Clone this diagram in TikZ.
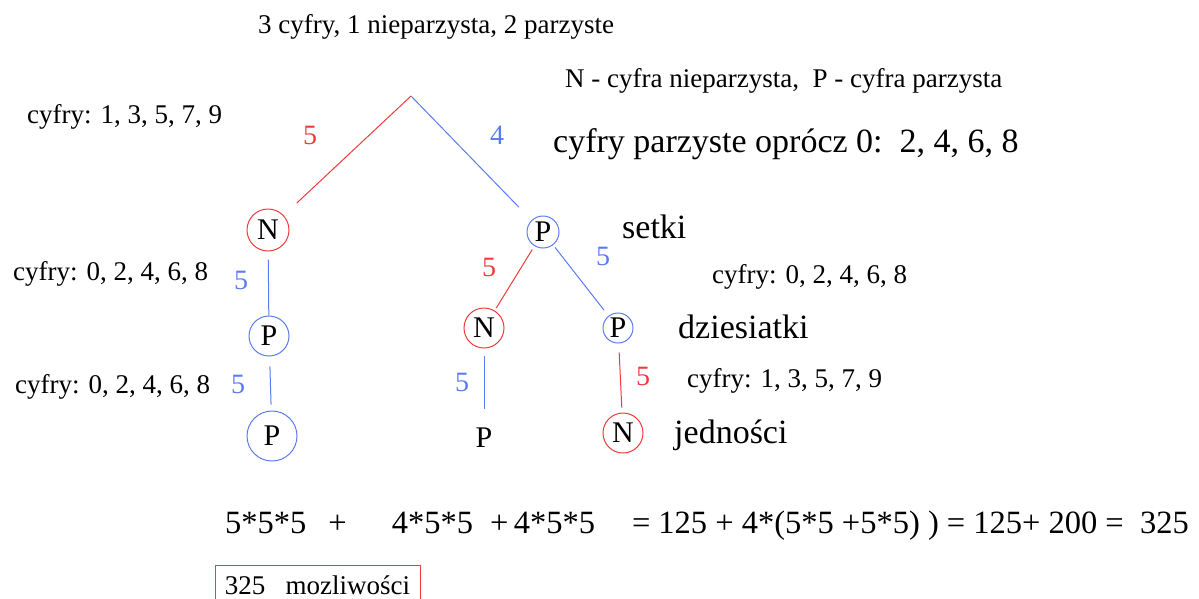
\documentclass[tikz,border=0pt]{standalone}
\usepackage{fontspec}
\setmainfont{Liberation Serif}
\definecolor{drzewoCzerw}{HTML}{F03A3A}
\definecolor{drzewoNieb}{HTML}{5B7BF0}

\begin{document}
\begin{tikzpicture}[x=1pt,y=-1pt,
  opis/.style={font=\fontsize{27}{30}\selectfont,anchor=base west,inner sep=0pt},
  opisduzy/.style={font=\fontsize{34}{38}\selectfont,anchor=base west,inner sep=0pt},
  cyfraN/.style={circle,draw=drzewoCzerw,line width=1pt,inner sep=0pt,
    font=\fontsize{30}{32}\selectfont},
  cyfraP/.style={circle,draw=drzewoNieb,line width=1pt,inner sep=0pt,
    font=\fontsize{30}{32}\selectfont},
  liczba/.style={font=\fontsize{28}{30}\selectfont,inner sep=0pt},
  galazN/.style={drzewoCzerw,line width=1pt},
  galazP/.style={drzewoNieb,line width=1pt}]
  \useasboundingbox (0,0) rectangle (1199,598);
  % Opisy u gory rysunku.
  \node[opis] (tytul) at (258,33) {3 cyfry, 1 nieparzysta, 2 parzyste};
  \node[opis] (legenda) at (565,87) {N - cyfra nieparzysta,\ \ P - cyfra parzysta};
  \node[opisduzy] (parzyste) at (553,152) {cyfry parzyste oprócz 0:\ \ 2, 4, 6, 8};
  % Drzewo: setki, dziesiatki, jednosci.
  \coordinate (korzen) at (411,96);
  \node[cyfraN,minimum size=42pt] (s1) at (268,230) {N};
  \node[cyfraP,minimum size=32pt] (s2) at (543,232) {P};
  \node[cyfraP,minimum size=40pt] (d1) at (269,336) {P};
  \node[cyfraN,minimum size=40pt] (d2) at (484,328) {N};
  \node[cyfraP,minimum size=30pt] (d3) at (618,328) {P};
  \node[cyfraP,minimum size=50pt] (j1) at (272,436) {P};
  \node[liczba,font=\fontsize{30}{32}\selectfont] (j2) at (484,438) {P};
  \node[cyfraN,minimum size=40pt] (j3) at (623,433) {N};
  \foreach \a/\b/\kolor/\sa/\sb in {korzen/s1/galazN/0/18,korzen/s2/galazP/0/18,
      s1/d1/galazP/8/0,d1/j1/galazP/10/6,s2/d2/galazN/4/3,s2/d3/galazP/3/7,
      d2/j2/galazP/7/19,d3/j3/galazN/9/5}
    \draw[\kolor,shorten <=\sa pt,shorten >=\sb pt] (\a) -- (\b);
  % Liczby mozliwosci przy galeziach.
  \node[liczba,text=drzewoCzerw] (l1) at (310,135) {5};
  \node[liczba,text=drzewoNieb] (l2) at (497,135) {4};
  \node[liczba,text=drzewoNieb] (l3) at (241,280) {5};
  \node[liczba,text=drzewoNieb] (l4) at (238,384) {5};
  \node[liczba,text=drzewoCzerw] (l5) at (489,267) {5};
  \node[liczba,text=drzewoNieb] (l6) at (603,256) {5};
  \node[liczba,text=drzewoNieb] (l7) at (462,382) {5};
  \node[liczba,text=drzewoCzerw] (l8) at (643,376) {5};
  % Dostepne cyfry i nazwy pozycji.
  \node[opis] (c1) at (27,123) {cyfry: 1, 3, 5, 7, 9};
  \node[opis] (c2) at (13,280) {cyfry: 0, 2, 4, 6, 8};
  \node[opis] (c3) at (15,393) {cyfry: 0, 2, 4, 6, 8};
  \node[opis] (c4) at (712,283) {cyfry: 0, 2, 4, 6, 8};
  \node[opis] (c5) at (687,387) {cyfry: 1, 3, 5, 7, 9};
  \node[opisduzy] (setki) at (622,238) {setki};
  \node[opisduzy] (dziesiatki) at (678,338) {dziesiatki};
  \node[opisduzy] (jednosci) at (674,443) {jedności};
  % Rachunek i wynik.
  \node[font=\fontsize{32.5}{35}\selectfont,anchor=base west,inner sep=0pt] (rachunek) at (225,533)
    {5*5*5\hspace{22pt}+\hspace{45pt}4*5*5\hspace{17pt}+\,4*5*5\hspace{37pt}= 125 + 4*(5*5 +5*5) ) = 125+ 200 =\ \ 325};
  \node[draw=drzewoCzerw,line width=1pt,minimum width=205pt,minimum height=40pt,
    font=\fontsize{27}{30}\selectfont] (wynik) at (317.5,585) {325\ \ \ mozliwości};
\end{tikzpicture}
\end{document}
